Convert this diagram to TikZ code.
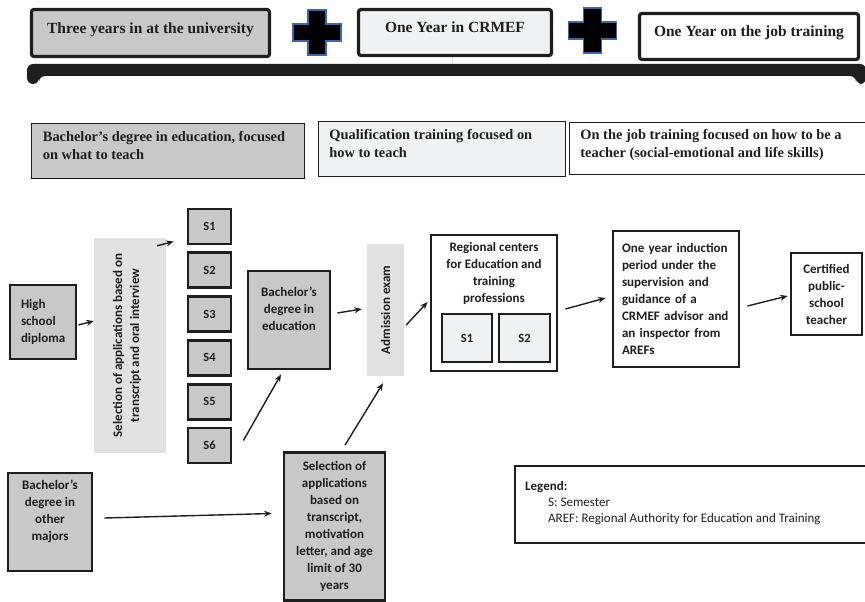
\documentclass[tikz,border=0pt]{standalone}
\usepackage{fontspec}
\setmainfont{Carlito}
\newfontfamily\timesfont{Liberation Serif}
\usetikzlibrary{arrows.meta}
\definecolor{boxgray}{HTML}{C8C8C8}
\definecolor{palefill}{HTML}{F0F1F3}
\definecolor{selgray}{HTML}{E1E1E1}
\definecolor{ink}{HTML}{1E1E1E}
\definecolor{crossblue}{HTML}{3A67AE}
\tikzset{
  topbox/.style={draw=ink, line width=3.2pt, rounded corners=2.5pt, inner sep=0pt, text=ink,
    font=\timesfont\bfseries\fontsize{15.5}{18}\selectfont, text height=10pt, text depth=9pt},
  rowbox/.style={draw=ink, line width=1.8pt, anchor=north west, inner xsep=11pt, inner ysep=0pt,
    text=ink, font=\timesfont\bfseries\fontsize{14.4}{18}\selectfont},
  flowbox/.style={draw=ink, line width=2.8pt, inner sep=0pt, text=ink,
    font=\bfseries\fontsize{13}{17}\selectfont, align=center},
  semester/.style={flowbox, fill=boxgray, minimum width=43pt, minimum height=35pt,
    font=\bfseries\fontsize{12.5}{15}\selectfont},
  band/.style={fill=selgray, inner sep=0pt},
  flowtext/.style={text=ink, font=\bfseries\fontsize{13}{17}\selectfont, align=center, inner sep=0pt},
  arr/.style={draw=ink, line width=1.4pt, -{Stealth[length=7.5pt,width=6pt]}},
  pics/crosssign/.style={code={
    \filldraw[fill=black, draw=crossblue, line width=1.4pt]
      (-9,-22.5) -- (9,-22.5) -- (9,-8.5) -- (24,-8.5) -- (24,8.5) -- (9,8.5) -- (9,22.5)
      -- (-9,22.5) -- (-9,8.5) -- (-24,8.5) -- (-24,-8.5) -- (-9,-8.5) -- cycle;}}
}
\newcommand{\toptext}[3]{\parbox[c][#1][t]{#2}{\raggedright #3}}
\begin{document}
\begin{tikzpicture}[x=1pt,y=-1pt]
\useasboundingbox (0,0) rectangle (865,602);

% ---- study path: three components ----
\node[topbox, fill=boxgray, minimum width=238pt, minimum height=47pt] (yuni) at (150.5,33) {Three years in at the university};
\pic at (317,32.5) {crosssign};
\node[topbox, fill=palefill, minimum width=193pt, minimum height=46pt] (ycrmef) at (455,32.5) {One Year in CRMEF};
\pic at (592.5,30.5) {crosssign};
\node[topbox, fill=white, minimum width=219pt, minimum height=46pt] (yjob) at (749,36.5) {One Year on the job training};

% brace joining the components
\fill[ink] (ycrmef.south) ++(-3,-1) rectangle (452,66);
\fill[ink, rounded corners=6pt] (27,84) -- (27,64) -- (866,64) -- (866,84) -- (856,84) -- (856,76) -- (39,76) -- (39,84) -- cycle;

% ---- focus of each component ----
\node[rowbox, fill=boxgray, minimum width=273pt, minimum height=55pt] (focusa) at (30.5,122.5)
  {\toptext{40pt}{250pt}{Bachelor’s degree in education, focused\\ on what to teach}};
\node[rowbox, fill=palefill, minimum width=242pt, minimum height=55pt] (focusb) at (317.5,120.5)
  {\toptext{40pt}{225pt}{Qualification training focused on\\ how to teach}};
\node[rowbox, fill=white, minimum width=295pt, minimum height=52pt] (focusc) at (568.5,121.5)
  {\toptext{38pt}{280pt}{On the job training focused on how to be a\\ teacher (social-emotional and life skills)}};

% ---- pathway flow ----
\node[flowbox, fill=boxgray, minimum width=66pt, minimum height=74pt, align=left, text width=44pt] (hs) at (43,322)
  {High\\ school\\ diploma};

\node[band, minimum width=72pt, minimum height=215pt] (sel1) at (130,345.5) {};
\node[flowtext, rotate=90] (sel1txt) at (127,345.5) {Selection of applications based on\\ transcript and oral interview};

\foreach \i in {1,...,6}
  \node[semester] (s\i) at (209.5,{226.5+43.8*(\i-1)}) {S\i};

\node[flowbox, fill=boxgray, minimum width=82pt, minimum height=98pt] (bached) at (289,320)
  {Bachelor’s\\ degree in\\ education\\[6pt]};

\node[band, minimum width=37pt, minimum height=132pt] (adm) at (385.5,310) {};
\node[flowtext, rotate=90] (admtxt) at (385.5,310) {Admission exam};

\node[flowbox, fill=white, minimum width=126pt, minimum height=136pt] (reg) at (494,303) {};
\node[flowtext] (regtxt) at (494,273.5) {Regional centers\\ for Education and\\ training\\ professions};
\node[semester, fill=palefill, minimum width=50pt, minimum height=48pt] (rs1) at (467,338) {S1};
\node[semester, fill=palefill, minimum width=51pt, minimum height=48pt] (rs2) at (524.5,338) {S2};

\node[flowbox, fill=white, minimum width=126pt, minimum height=136pt, align=left, text width=108pt] (ind) at (676,299)
  {One year induction\\ period under the\\ supervision and\\ guidance of a\\ CRMEF advisor and\\ an inspector from\\ AREFs};

\node[flowbox, fill=white, minimum width=71pt, minimum height=82pt] (cert) at (826.5,294)
  {Certified\\ public-\\ school\\ teacher};

\node[flowbox, fill=boxgray, minimum width=84pt, minimum height=98pt] (other) at (50,522)
  {Bachelor’s\\ degree in\\ other\\ majors\\[6pt]};

\node[flowbox, fill=boxgray, minimum width=101pt, minimum height=148pt] (sel2) at (334.5,526.5)
  {Selection of\\ applications\\ based on\\ transcript,\\ motivation\\ letter, and age\\ limit of 30\\ years};

% ---- legend ----
\node[draw=ink, line width=2.2pt, anchor=north west, minimum width=360pt, minimum height=77pt, inner sep=0pt] (legend) at (514,465) {};
\node[anchor=north west, inner sep=0pt, text=ink, align=left, font=\fontsize{13}{16.3}\selectfont] (legtxt) at (525,481)
  {\textbf{Legend:}\\ \hspace*{23pt}S: Semester\\ \hspace*{23pt}AREF: Regional Authority for Education and Training};

% ---- connectors ----
\draw[arr] ([xshift=1pt,yshift=-3pt]hs.east) -- ([yshift=1pt]sel1.west |- hs.east);
\draw[arr] ([xshift=-9pt,yshift=-8pt]sel1.north east) -- ([xshift=-13pt,yshift=-15pt]s1.west);
\draw[arr] ([xshift=11pt,yshift=5pt]s6.east) -- ([xshift=-8pt,yshift=-4pt]bached.south);
\draw[arr] ([xshift=6pt,yshift=7pt]bached.east) -- ([xshift=-5pt,yshift=1pt]adm.west);
\draw[arr] ([xshift=10.5pt,yshift=6pt]sel2.north) -- ([xshift=-2.5pt,yshift=-7pt]adm.south);
\draw[arr] ([xshift=2pt,yshift=-15pt]adm.east) -- ([xshift=-2pt,yshift=1pt]reg.west);
\draw[arr] ([xshift=7pt,yshift=-6pt]reg.east) -- ([xshift=-6pt,yshift=1pt]ind.west);
\draw[arr] ([xshift=7pt,yshift=-7pt]ind.east) -- ([xshift=-2pt,yshift=-2pt]cert.west);
\draw[arr] ([xshift=11pt,yshift=4pt]other.east) -- ([xshift=-11pt,yshift=13pt]sel2.west);
\end{tikzpicture}
\end{document}
